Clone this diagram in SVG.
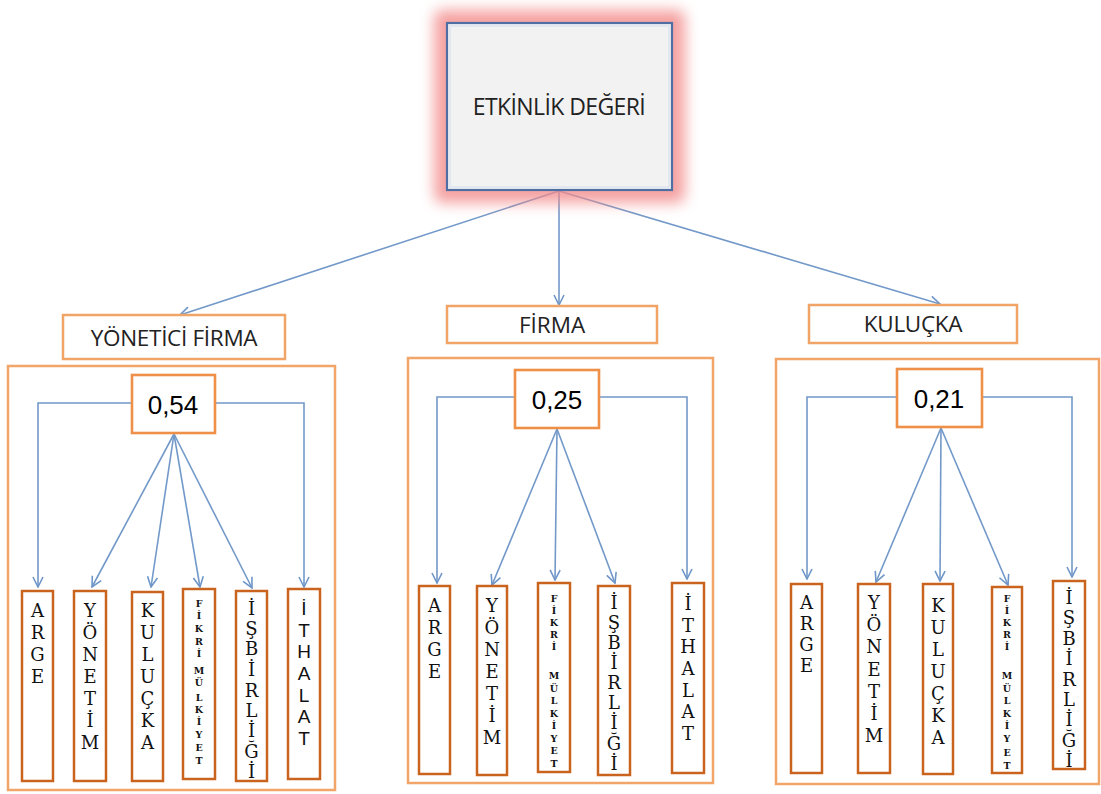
<svg xmlns="http://www.w3.org/2000/svg" width="1101" height="794" viewBox="0 0 1101 794">
<defs>
<filter id="glow" x="-30%" y="-30%" width="160%" height="160%"><feGaussianBlur stdDeviation="7"/></filter>
<marker id="ah" viewBox="0 0 12 12" refX="11" refY="6" markerWidth="12" markerHeight="12" markerUnits="userSpaceOnUse" orient="auto">
<path d="M1,1 L11,6 L1,11" fill="none" stroke="#6f96c8" stroke-width="1.6"/>
</marker>
<style>
.con{fill:none;stroke:#7399c9;stroke-width:1.6;marker-end:url(#ah)}
.lbl{fill:#fff;stroke:#f0a466;stroke-width:2.5}
.outer{fill:none;stroke:#f2a568;stroke-width:2.5}
.val{fill:#fff;stroke:#ee9048;stroke-width:2.6}
.ch{fill:#fff;stroke:#c9631e;stroke-width:2.5}
.t{font-family:"Open Sans","Liberation Sans",sans-serif;fill:#222;text-anchor:middle}
.v{font-family:"Liberation Sans",Arial,sans-serif;font-size:26px;fill:#000;text-anchor:middle}
.s{font-family:"DejaVu Serif","Liberation Serif",serif;font-size:18px;fill:#111;text-anchor:middle}
.ss{font-family:"Liberation Sans",Arial,sans-serif;font-size:19px;fill:#111;text-anchor:middle}
.f{font-family:"DejaVu Serif","Liberation Serif",serif;font-size:9.5px;font-weight:bold;fill:#111;text-anchor:middle}
</style>
</defs>
<rect width="1101" height="794" fill="#fff"/>

<g id="connectors">
<line class="con" x1="559" y1="191" x2="180" y2="315"/>
<line class="con" x1="559" y1="191" x2="559" y2="305"/>
<line class="con" x1="559" y1="191" x2="940" y2="304"/>
<polyline class="con" points="132,403 38,403 38,587"/>
<polyline class="con" points="215,403 304,403 304,587"/>
<line class="con" x1="174" y1="434" x2="92" y2="587"/>
<line class="con" x1="174" y1="434" x2="151" y2="587"/>
<line class="con" x1="174" y1="434" x2="200" y2="587"/>
<line class="con" x1="174" y1="434" x2="252" y2="588"/>
<polyline class="con" points="515,397 437,397 437,583"/>
<polyline class="con" points="599,397 687,397 687,579"/>
<line class="con" x1="557" y1="429" x2="492" y2="585"/>
<line class="con" x1="557" y1="429" x2="555" y2="580"/>
<line class="con" x1="557" y1="429" x2="615" y2="583"/>
<polyline class="con" points="897,397 807,397 807,579"/>
<polyline class="con" points="982,397 1072,397 1072,577"/>
<line class="con" x1="941" y1="428" x2="876" y2="582"/>
<line class="con" x1="941" y1="428" x2="940" y2="581"/>
<line class="con" x1="941" y1="428" x2="1008" y2="585"/>
</g>

<g id="top">
<rect x="434" y="10" width="251" height="193" rx="8" fill="#f38a8a" opacity="0.8" filter="url(#glow)"/>
<rect x="447" y="23" width="225" height="167" fill="#f2f2f2" stroke="#4d6fa3" stroke-width="2.2"/>
<rect x="450" y="26" width="219" height="161" fill="none" stroke="#dbe5f1" stroke-width="1.5"/>
<text class="t" x="559" y="115" font-size="23" letter-spacing="-0.6">ETKİNLİK DEĞERİ</text>
</g>

<g id="yonetici-firma">
<rect class="lbl" x="63" y="315" width="222" height="44"/>
<text class="t" x="174" y="346" font-size="22.5" letter-spacing="-0.3">YÖNETİCİ FİRMA</text>
</g>
<g id="firma">
<rect class="lbl" x="447" y="306" width="210" height="37"/>
<text class="t" x="552" y="333" font-size="22.5">FİRMA</text>
</g>
<g id="kulucka">
<rect class="lbl" x="809" y="305" width="208" height="38"/>
<text class="t" x="913" y="332" font-size="22.5" letter-spacing="-0.3">KULUÇKA</text>
</g>

<g id="group1">
<rect class="outer" x="8" y="366" width="327" height="424"/>
<g id="v054"><rect class="val" x="132" y="375" width="83" height="58"/><text class="v" x="173" y="414">0,54</text></g>
<g id="g1-arge"><rect class="ch" x="22" y="591" width="31" height="190"/>
<text class="s"><tspan x="37.5" y="617">A</tspan><tspan x="37.5" y="639">R</tspan><tspan x="37.5" y="661">G</tspan><tspan x="37.5" y="683">E</tspan></text></g>
<g id="g1-yonetim"><rect class="ch" x="74" y="591" width="32" height="190"/>
<text class="s"><tspan x="90" y="617">Y</tspan><tspan x="90" y="639">Ö</tspan><tspan x="90" y="661">N</tspan><tspan x="90" y="683">E</tspan><tspan x="90" y="705">T</tspan><tspan x="90" y="727">İ</tspan><tspan x="90" y="749">M</tspan></text></g>
<g id="g1-kulucka"><rect class="ch" x="132" y="592" width="31" height="189"/>
<text class="s"><tspan x="147.5" y="617">K</tspan><tspan x="147.5" y="639">U</tspan><tspan x="147.5" y="661">L</tspan><tspan x="147.5" y="683">U</tspan><tspan x="147.5" y="705">Ç</tspan><tspan x="147.5" y="727">K</tspan><tspan x="147.5" y="749">A</tspan></text></g>
<g id="g1-fikri"><rect class="ch" x="183" y="589" width="32" height="190"/>
<text class="f"><tspan x="199" y="607">F</tspan><tspan x="199" y="619">İ</tspan><tspan x="199" y="632">K</tspan><tspan x="199" y="645">R</tspan><tspan x="199" y="657">İ</tspan><tspan x="199" y="674">M</tspan><tspan x="199" y="686">Ü</tspan><tspan x="199" y="701">L</tspan><tspan x="199" y="713">K</tspan><tspan x="199" y="725">İ</tspan><tspan x="199" y="738">Y</tspan><tspan x="199" y="751">E</tspan><tspan x="199" y="764">T</tspan></text></g>
<g id="g1-isbirligi"><rect class="ch" x="236" y="591" width="31" height="190"/>
<text class="s"><tspan x="251.5" y="615">İ</tspan><tspan x="251.5" y="635">Ş</tspan><tspan x="251.5" y="655">B</tspan><tspan x="251.5" y="676">İ</tspan><tspan x="251.5" y="697">R</tspan><tspan x="251.5" y="717">L</tspan><tspan x="251.5" y="737">İ</tspan><tspan x="251.5" y="758">Ğ</tspan><tspan x="251.5" y="778">İ</tspan></text></g>
<g id="g1-ithalat"><rect class="ch" x="288" y="589" width="32" height="190"/>
<text class="ss"><tspan x="304" y="615">İ</tspan><tspan x="304" y="637">T</tspan><tspan x="304" y="658">H</tspan><tspan x="304" y="680">A</tspan><tspan x="304" y="702">L</tspan><tspan x="304" y="723">A</tspan><tspan x="304" y="745">T</tspan></text></g>
</g>

<g id="group2">
<rect class="outer" x="408" y="358" width="305" height="425"/>
<g id="v025"><rect class="val" x="515" y="370" width="84" height="58"/><text class="v" x="557" y="409">0,25</text></g>
<g id="g2-arge"><rect class="ch" x="419" y="586" width="31" height="188"/>
<text class="s"><tspan x="434.5" y="612">A</tspan><tspan x="434.5" y="634">R</tspan><tspan x="434.5" y="656">G</tspan><tspan x="434.5" y="678">E</tspan></text></g>
<g id="g2-yonetim"><rect class="ch" x="477" y="586" width="30" height="189"/>
<text class="s"><tspan x="492" y="612">Y</tspan><tspan x="492" y="634">Ö</tspan><tspan x="492" y="656">N</tspan><tspan x="492" y="678">E</tspan><tspan x="492" y="700">T</tspan><tspan x="492" y="722">İ</tspan><tspan x="492" y="744">M</tspan></text></g>
<g id="g2-fikri"><rect class="ch" x="538" y="583" width="32" height="189"/>
<text class="f"><tspan x="554" y="602">F</tspan><tspan x="554" y="614">İ</tspan><tspan x="554" y="626">K</tspan><tspan x="554" y="638">R</tspan><tspan x="554" y="650">İ</tspan><tspan x="554" y="679">M</tspan><tspan x="554" y="692">Ü</tspan><tspan x="554" y="704">L</tspan><tspan x="554" y="717">K</tspan><tspan x="554" y="729">İ</tspan><tspan x="554" y="742">Y</tspan><tspan x="554" y="754">E</tspan><tspan x="554" y="767">T</tspan></text></g>
<g id="g2-isbirligi"><rect class="ch" x="598" y="586" width="32" height="189"/>
<text class="s"><tspan x="614" y="609">İ</tspan><tspan x="614" y="629">Ş</tspan><tspan x="614" y="649">B</tspan><tspan x="614" y="669">İ</tspan><tspan x="614" y="689">R</tspan><tspan x="614" y="709">L</tspan><tspan x="614" y="729">İ</tspan><tspan x="614" y="750">Ğ</tspan><tspan x="614" y="770">İ</tspan></text></g>
<g id="g2-ithalat"><rect class="ch" x="672" y="583" width="32" height="190"/>
<text class="s"><tspan x="688" y="610">İ</tspan><tspan x="688" y="632">T</tspan><tspan x="688" y="653">H</tspan><tspan x="688" y="675">A</tspan><tspan x="688" y="697">L</tspan><tspan x="688" y="718">A</tspan><tspan x="688" y="740">T</tspan></text></g>
</g>

<g id="group3">
<rect class="outer" x="776" y="359" width="323" height="425"/>
<g id="v021"><rect class="val" x="897" y="369" width="85" height="58"/><text class="v" x="939" y="408">0,21</text></g>
<g id="g3-arge"><rect class="ch" x="791" y="584" width="31" height="189"/>
<text class="s"><tspan x="806.5" y="609">A</tspan><tspan x="806.5" y="630">R</tspan><tspan x="806.5" y="651">G</tspan><tspan x="806.5" y="672">E</tspan></text></g>
<g id="g3-yonetim"><rect class="ch" x="858" y="584" width="32" height="189"/>
<text class="s"><tspan x="874" y="609">Y</tspan><tspan x="874" y="631">Ö</tspan><tspan x="874" y="653">N</tspan><tspan x="874" y="676">E</tspan><tspan x="874" y="698">T</tspan><tspan x="874" y="720">İ</tspan><tspan x="874" y="742">M</tspan></text></g>
<g id="g3-kulucka"><rect class="ch" x="923" y="584" width="30" height="190"/>
<text class="s"><tspan x="938" y="612">K</tspan><tspan x="938" y="634">U</tspan><tspan x="938" y="656">L</tspan><tspan x="938" y="678">U</tspan><tspan x="938" y="700">Ç</tspan><tspan x="938" y="722">K</tspan><tspan x="938" y="744">A</tspan></text></g>
<g id="g3-fikri"><rect class="ch" x="992" y="587" width="30" height="186"/>
<text class="f"><tspan x="1007" y="602">F</tspan><tspan x="1007" y="614">İ</tspan><tspan x="1007" y="626">K</tspan><tspan x="1007" y="638">R</tspan><tspan x="1007" y="650">İ</tspan><tspan x="1007" y="679">M</tspan><tspan x="1007" y="692">Ü</tspan><tspan x="1007" y="704">L</tspan><tspan x="1007" y="717">K</tspan><tspan x="1007" y="729">İ</tspan><tspan x="1007" y="742">Y</tspan><tspan x="1007" y="756">E</tspan><tspan x="1007" y="769">T</tspan></text></g>
<g id="g3-isbirligi"><rect class="ch" x="1053" y="581" width="32" height="188"/>
<text class="s"><tspan x="1069" y="604">İ</tspan><tspan x="1069" y="624">Ş</tspan><tspan x="1069" y="645">B</tspan><tspan x="1069" y="665">İ</tspan><tspan x="1069" y="686">R</tspan><tspan x="1069" y="706">L</tspan><tspan x="1069" y="726">İ</tspan><tspan x="1069" y="747">Ğ</tspan><tspan x="1069" y="767">İ</tspan></text></g>
</g>
</svg>
